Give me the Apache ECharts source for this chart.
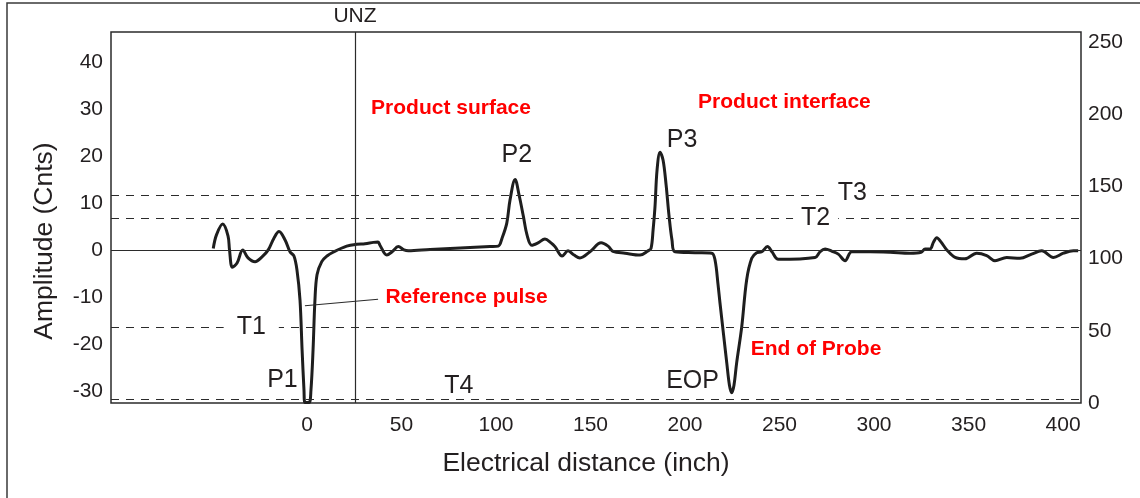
<!DOCTYPE html>
<html>
<head>
<meta charset="utf-8">
<script src="https://cdn.jsdelivr.net/npm/echarts@6/dist/echarts.min.js"></script>
<style>
  html, body { margin: 0; padding: 0; background: #fff; }
  #chart { width: 1140px; height: 498px; }
</style>
</head>
<body>
<div id="chart"></div>
<script>
// Probe echo waveform: electrical distance (inch) vs amplitude (counts)
const distance = [
  -49.6, -47.9, -44.6, -41.8, -41.0, -39.5, -37.0, -34.0, -31.2, -27.5,
  -23.8, -20.5, -17.5, -14.8, -11.6, -9.0, -6.9, -5.3, -3.7, -2.6,
  -1.6, -1.1, 1.1, 2.1, 3.2, 4.2, 5.3, 7.8, 10.6, 13.8,
  21.0, 26.3, 30.7, 35.1, 37.6, 38.6, 42.2, 45.0, 48.3, 51.3,
  53.6, 65.1, 81.0, 96.8, 101.2, 103.2, 105.7, 107.4, 110.1, 112.2,
  114.5, 116.4, 118.9, 122.2, 125.9, 129.1, 131.2, 135.0, 138.1, 141.3,
  144.4, 149.7, 155.6, 159.3, 161.9, 168.3, 176.2, 180.4, 182.0, 183.1,
  184.1, 185.2, 186.8, 188.4, 190.0, 191.5, 193.1, 194.7, 205.3, 214.1,
  215.9, 217.5, 218.5, 220.4, 222.1, 223.5, 224.7, 225.9, 227.3, 230.0,
  232.6, 235.3, 237.9, 240.6, 243.6, 246.0, 249.4, 268.8, 271.4, 274.1,
  277.8, 281.1, 284.7, 288.2, 297.9, 308.5, 319.0, 324.9, 327.0, 329.6,
  331.5, 333.2, 335.4, 338.5, 342.9, 348.1, 354.3, 359.6, 364.0, 370.2,
  377.2, 383.4, 388.7, 394.9, 400.2, 405.5, 408.0
];
const amplitude = [
  0.3, 3.2, 5.5, 3.0, 0.0, -3.7, -2.8, 0.0, -1.7, -2.5,
  -1.5, 0.0, 2.5, 3.9, 2.1, -0.4, -1.3, -4.3, -10.7, -21.3,
  -29.8, -32.5, -32.5, -29.8, -21.3, -10.7, -5.3, -2.5, -1.3, -0.5,
  0.8, 1.2, 1.3, 1.6, 1.7, 1.0, -1.1, -0.4, 0.7, 0.0,
  -0.2, 0.1, 0.4, 0.7, 0.8, 2.5, 5.7, 10.6, 15.0, 11.7,
  7.1, 3.2, 1.0, 1.5, 2.3, 1.5, 0.7, -1.3, -0.2, -1.1,
  -1.7, -0.4, 1.5, 0.8, -0.3, -0.7, -1.1, -0.2, 0.3, 4.2,
  9.1, 17.0, 20.8, 19.1, 13.8, 7.4, 2.1, -0.4, -0.6, -0.7,
  -2.2, -7.5, -11.3, -18.1, -24.1, -28.8, -30.4, -28.8, -24.1, -16.4,
  -6.4, -1.8, -0.6, -0.4, 0.7, -0.4, -2.0, -1.6, -0.4, 0.2,
  -0.3, -0.9, -2.3, -0.4, -0.4, -0.5, -0.7, -0.5, 0.2, 0.2,
  1.7, 2.6, 1.7, 0.0, -1.6, -1.9, -0.7, -1.2, -2.3, -1.6,
  -1.8, -0.9, -0.2, -1.6, -0.7, -0.2, -0.2
];

// Detection thresholds (amplitude counts)
const thresholdNames = ['T1', 'T2', 'T3', 'T4'];
const thresholdLevels = [-16.4, 6.8, 11.7, -31.8];

// Upper null zone boundary (inch)
const unzDistance = 25.4;

const distanceTicks = [0, 50, 100, 150, 200, 250, 300, 350, 400];
const amplitudeTicks = [-30, -20, -10, 0, 10, 20, 30, 40];
const scaleTicks = [0, 50, 100, 150, 200, 250];

const FONT = '"Liberation Sans", Arial, Helvetica, sans-serif';
const INK = '#231f20';
const RED = '#ff0000';

const trace = distance.map((d, i) => [d, amplitude[i]]);

function note(text, x, y, extra) {
  return {
    value: [x, y],
    label: Object.assign({ formatter: text }, extra || {})
  };
}

const plainText = { fontSize: 25, color: INK, fontFamily: FONT, textBorderWidth: 0 };
const redText = { fontSize: 21, color: RED, fontWeight: 'bold', fontFamily: FONT, textBorderWidth: 0 };

const chart = echarts.init(document.getElementById('chart'), null, { renderer: 'canvas' });

chart.setOption({
  animation: false,
  backgroundColor: '#fff',
  grid: {
    left: 111, right: 59, top: 32, bottom: 95,
    show: true, borderColor: '#2b2b2b', borderWidth: 1.5, backgroundColor: 'transparent'
  },
  xAxis: {
    type: 'value',
    min: -103.7, max: 409.5,
    name: 'Electrical distance (inch)',
    nameLocation: 'middle',
    nameGap: 47,
    nameTextStyle: { fontSize: 26.5, color: INK, fontFamily: FONT, padding: [0, 20, 0, 0] },
    axisLine: { show: false },
    axisTick: { show: false },
    splitLine: { show: false },
    axisLabel: {
      customValues: distanceTicks,
      fontSize: 21, color: INK, fontFamily: FONT, margin: 12
    }
  },
  yAxis: [
    {
      type: 'value',
      min: -32.6, max: 46.4,
      axisLine: { show: false },
      axisTick: { show: false },
      splitLine: { show: false },
      axisLabel: {
        customValues: amplitudeTicks,
        fontSize: 21, color: INK, fontFamily: FONT, margin: 8
      }
    },
    {
      type: 'value',
      position: 'right',
      min: 0, max: 257,
      axisLine: { show: false },
      axisTick: { show: false },
      splitLine: { show: false },
      axisLabel: {
        customValues: scaleTicks,
        fontSize: 21, color: INK, fontFamily: FONT, margin: 7
      }
    }
  ],
  graphic: [
    {
      type: 'rect', silent: true, z: -1,
      shape: { x: 7, y: 3, width: 1400, height: 800 },
      style: { fill: 'none', stroke: '#3a3a3a', lineWidth: 1.5 }
    },
    {
      type: 'text', silent: true,
      x: 45, y: 241, rotation: Math.PI / 2,
      style: {
        text: 'Amplitude (Cnts)', fill: INK, font: '26.5px ' + FONT,
        align: 'center', verticalAlign: 'middle'
      }
    }
  ],
  series: [
    {
      name: 'Echo',
      type: 'line',
      data: trace,
      smooth: 0.35,
      showSymbol: false,
      clip: true,
      lineStyle: { color: '#1e1e1e', width: 3 },
      z: 3,
      markLine: {
        silent: true,
        symbol: 'none',
        animation: false,
        data: [
          // zero baseline
          { yAxis: 0, lineStyle: { type: 'solid', color: '#2b2b2b', width: 1.2 }, label: { show: false } },
          // null zone boundary
          {
            xAxis: unzDistance,
            lineStyle: { type: 'solid', color: '#2b2b2b', width: 1.2 },
            label: { show: true, position: 'end', formatter: 'UNZ', fontSize: 21, color: INK, fontFamily: FONT, distance: 5 }
          },
          // threshold levels
          ...thresholdLevels.map(v => ({
            yAxis: v,
            lineStyle: { type: [8, 7], color: '#2b2b2b', width: 1.2 },
            label: { show: false }
          })),
          // pointer to the reference pulse
          [
            { coord: [-1.1, -11.9], lineStyle: { type: 'solid', color: '#2b2b2b', width: 1.1 }, label: { show: false } },
            { coord: [37.6, -10.5] }
          ]
        ]
      }
    },
    {
      name: 'Notes',
      type: 'scatter',
      symbolSize: 0,
      silent: true,
      z: 6,
      itemStyle: { opacity: 1 },
      label: {
        show: true,
        position: 'inside',
        align: 'center',
        verticalAlign: 'middle',
        textBorderWidth: 0
      },
      data: [
        note('Product surface', 76.2, 30.2, redText),
        note('Product interface', 252.6, 31.5, redText),
        note('Reference pulse', 84.4, -10.0, redText),
        note('End of Probe', 269.3, -21.1, redText),
        note('P1', -13.0, -27.7, plainText),
        note('P2', 111.0, 20.2, plainText),
        note('P3', 198.4, 23.4, plainText),
        note('EOP', 204.0, -27.9, plainText),
        note(thresholdNames[0], -29.5, thresholdLevels[0], Object.assign({ backgroundColor: '#fff', padding: [0, 13] }, plainText)),
        note(thresholdNames[1], 269.1, thresholdLevels[1], Object.assign({ backgroundColor: '#fff', padding: [0, 8] }, plainText)),
        note(thresholdNames[2], 288.5, thresholdLevels[2] + 0.4, Object.assign({ backgroundColor: '#fff', padding: [0, 7] }, plainText)),
        note(thresholdNames[3], 80.3, -29.1, plainText)
      ]
    }
  ]
});
</script>
</body>
</html>
